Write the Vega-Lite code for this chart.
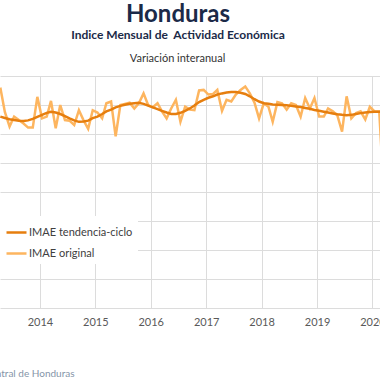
{
  "$schema": "https://vega.github.io/schema/vega-lite/v6.json",
  "width": 380,
  "height": 232,
  "autosize": {"type": "none"},
  "padding": {"top": 76, "left": 0, "right": 0, "bottom": 72},
  "background": "white",
  "title": {
    "text": "Honduras",
    "subtitle": "Indice Mensual de\u00a0 Actividad Económica",
    "anchor": "middle",
    "dx": -12,
    "offset": 11,
    "font": "Lato",
    "fontSize": 24,
    "fontWeight": "bold",
    "color": "#1b2a48",
    "subtitleFont": "Lato",
    "subtitleFontSize": 12,
    "subtitleFontWeight": "bold",
    "subtitleColor": "#1b2a48",
    "subtitlePadding": 3
  },
  "config": {
    "view": {"stroke": null},
    "axis": {"labelFont": "Lato", "titleFont": "Lato"},
    "axisY": {
      "values": [-30, -25, -20, -15, -10, -5, 0, 5, 10],
      "labels": false,
      "ticks": false,
      "domain": false,
      "grid": true,
      "gridColor": "#dcdcdc",
      "gridWidth": 1,
      "titleAngle": 0,
      "titleAlign": "center",
      "titleBaseline": "alphabetic",
      "titleX": 177,
      "titleY": -15,
      "titleFontSize": 11,
      "titleFontWeight": "normal",
      "titleColor": "#333333"
    },
    "legend": {"labelFont": "Lato"}
  },
  "data": {
    "values": [
      {"f": "2013-04-15", "o": 8.0, "t": 3.0},
      {"f": "2013-05-15", "o": 3.8, "t": 2.75},
      {"f": "2013-06-15", "o": 1.3, "t": 2.55},
      {"f": "2013-07-15", "o": 3.0, "t": 2.4},
      {"f": "2013-08-15", "o": 2.4, "t": 2.3},
      {"f": "2013-09-15", "o": 1.8, "t": 2.25},
      {"f": "2013-10-15", "o": 1.1, "t": 2.35},
      {"f": "2013-11-15", "o": 1.1, "t": 2.6},
      {"f": "2013-12-15", "o": 6.4, "t": 2.95},
      {"f": "2014-01-15", "o": 2.7, "t": 3.3},
      {"f": "2014-02-15", "o": 3.0, "t": 3.65},
      {"f": "2014-03-15", "o": 5.7, "t": 3.85},
      {"f": "2014-04-15", "o": 1.0, "t": 3.7},
      {"f": "2014-05-15", "o": 5.0, "t": 3.45},
      {"f": "2014-06-15", "o": 2.4, "t": 3.1},
      {"f": "2014-07-15", "o": 2.3, "t": 2.7},
      {"f": "2014-08-15", "o": 1.55, "t": 2.35},
      {"f": "2014-09-15", "o": 4.1, "t": 2.1},
      {"f": "2014-10-15", "o": 2.4, "t": 2.15},
      {"f": "2014-11-15", "o": 0.9, "t": 2.3},
      {"f": "2014-12-15", "o": 4.1, "t": 2.75},
      {"f": "2015-01-15", "o": 3.7, "t": 3.0},
      {"f": "2015-02-15", "o": 2.7, "t": 3.45},
      {"f": "2015-03-15", "o": 5.3, "t": 3.9},
      {"f": "2015-04-15", "o": 5.6, "t": 4.2},
      {"f": "2015-05-15", "o": -0.4, "t": 4.6},
      {"f": "2015-06-15", "o": 5.0, "t": 4.85},
      {"f": "2015-07-15", "o": 5.2, "t": 5.05},
      {"f": "2015-08-15", "o": 5.4, "t": 5.2},
      {"f": "2015-09-15", "o": 4.4, "t": 5.3},
      {"f": "2015-10-15", "o": 5.3, "t": 5.4},
      {"f": "2015-11-15", "o": 7.0, "t": 5.2},
      {"f": "2015-12-15", "o": 5.0, "t": 4.9},
      {"f": "2016-01-15", "o": 4.6, "t": 4.6},
      {"f": "2016-02-15", "o": 5.3, "t": 4.3},
      {"f": "2016-03-15", "o": 3.9, "t": 4.0},
      {"f": "2016-04-15", "o": 2.7, "t": 3.7},
      {"f": "2016-05-15", "o": 4.4, "t": 3.45},
      {"f": "2016-06-15", "o": 5.9, "t": 3.45},
      {"f": "2016-07-15", "o": 2.1, "t": 3.65},
      {"f": "2016-08-15", "o": 4.7, "t": 4.0},
      {"f": "2016-09-15", "o": 4.2, "t": 4.4},
      {"f": "2016-10-15", "o": 4.1, "t": 4.9},
      {"f": "2016-11-15", "o": 7.5, "t": 5.5},
      {"f": "2016-12-15", "o": 7.6, "t": 5.9},
      {"f": "2017-01-15", "o": 6.8, "t": 6.25},
      {"f": "2017-02-15", "o": 6.9, "t": 6.5},
      {"f": "2017-03-15", "o": 7.6, "t": 6.8},
      {"f": "2017-04-15", "o": 4.0, "t": 7.0},
      {"f": "2017-05-15", "o": 5.9, "t": 7.15},
      {"f": "2017-06-15", "o": 5.6, "t": 7.25},
      {"f": "2017-07-15", "o": 6.8, "t": 7.25},
      {"f": "2017-08-15", "o": 7.6, "t": 7.1},
      {"f": "2017-09-15", "o": 8.2, "t": 6.9},
      {"f": "2017-10-15", "o": 7.0, "t": 6.5},
      {"f": "2017-11-15", "o": 5.4, "t": 6.0},
      {"f": "2017-12-15", "o": 2.7, "t": 5.6},
      {"f": "2018-01-15", "o": 5.3, "t": 5.3},
      {"f": "2018-02-15", "o": 4.7, "t": 5.2},
      {"f": "2018-03-15", "o": 2.1, "t": 5.1},
      {"f": "2018-04-15", "o": 5.5, "t": 5.05},
      {"f": "2018-05-15", "o": 5.3, "t": 5.0},
      {"f": "2018-06-15", "o": 4.2, "t": 4.95},
      {"f": "2018-07-15", "o": 5.3, "t": 4.85},
      {"f": "2018-08-15", "o": 5.0, "t": 4.75},
      {"f": "2018-09-15", "o": 3.0, "t": 4.65},
      {"f": "2018-10-15", "o": 6.2, "t": 4.5},
      {"f": "2018-11-15", "o": 4.4, "t": 4.35},
      {"f": "2018-12-15", "o": 6.2, "t": 4.15},
      {"f": "2019-01-15", "o": 3.0, "t": 4.0},
      {"f": "2019-02-15", "o": 3.0, "t": 3.85},
      {"f": "2019-03-15", "o": 4.4, "t": 3.7},
      {"f": "2019-04-15", "o": 3.9, "t": 3.55},
      {"f": "2019-05-15", "o": 3.2, "t": 3.4},
      {"f": "2019-06-15", "o": 0.4, "t": 3.3},
      {"f": "2019-07-15", "o": 6.5, "t": 3.25},
      {"f": "2019-08-15", "o": 2.7, "t": 3.3},
      {"f": "2019-09-15", "o": 3.6, "t": 3.45},
      {"f": "2019-10-15", "o": 3.9, "t": 3.6},
      {"f": "2019-11-15", "o": 2.5, "t": 3.7},
      {"f": "2019-12-15", "o": 4.7, "t": 3.8},
      {"f": "2020-01-15", "o": 3.9, "t": 3.85},
      {"f": "2020-02-15", "o": 3.9, "t": 3.85},
      {"f": "2020-03-15", "o": -9.5, "t": 3.7}
    ]
  },
  "encoding": {
    "x": {
      "field": "f",
      "type": "temporal",
      "scale": {
        "type": "utc",
        "domain": [
          {"year": 2013, "month": 4, "date": 13, "utc": true},
          {"year": 2020, "month": 2, "date": 20, "utc": true}
        ]
      },
      "axis": {
        "format": "%Y",
        "tickCount": {"interval": "year", "step": 1},
        "grid": true,
        "gridColor": "#dcdcdc",
        "gridWidth": 1,
        "domain": false,
        "ticks": false,
        "labelFontSize": 11,
        "labelColor": "#595959",
        "labelPadding": 8,
        "title": "Fuente: Banco Central de Honduras",
        "titleFontSize": 10,
        "titleFontWeight": "normal",
        "titleColor": "#8595a8",
        "titleAlign": "right",
        "titleAnchor": null,
        "titleX": 74,
        "titleY": 68,
        "titleBaseline": "alphabetic"
      }
    }
  },
  "layer": [
    {
      "mark": {"type": "rule", "color": "#a6a6a6", "strokeWidth": 1.5},
      "encoding": {
        "y": {
          "datum": 0,
          "type": "quantitative",
          "title": "Variación interanual",
          "scale": {"domain": [-30, 10], "nice": false, "zero": false}
        }
      }
    },
    {
      "mark": {"type": "line", "strokeWidth": 2.5, "clip": true},
      "encoding": {
        "y": {
          "field": "o",
          "type": "quantitative",
          "title": "Variación interanual",
          "scale": {"domain": [-30, 10], "nice": false, "zero": false}
        },
        "color": {"datum": "IMAE original"}
      }
    },
    {
      "mark": {"type": "line", "strokeWidth": 2.5, "clip": true},
      "encoding": {
        "y": {
          "field": "t",
          "type": "quantitative",
          "title": "Variación interanual",
          "scale": {"domain": [-30, 10], "nice": false, "zero": false}
        },
        "color": {
          "datum": "IMAE tendencia-ciclo",
          "scale": {
            "domain": ["IMAE tendencia-ciclo", "IMAE original"],
            "range": ["#e67e0e", "#fdb55f"]
          },
          "legend": {
            "title": null,
            "orient": "none",
            "legendX": 0,
            "legendY": 140,
            "fillColor": "white",
            "padding": 5,
            "symbolType": "stroke",
            "symbolSize": 400,
            "symbolStrokeWidth": 2.5,
            "labelOffset": 1,
            "labelFontSize": 11,
            "labelColor": "#404040",
            "rowPadding": 4
          }
        }
      }
    }
  ]
}
